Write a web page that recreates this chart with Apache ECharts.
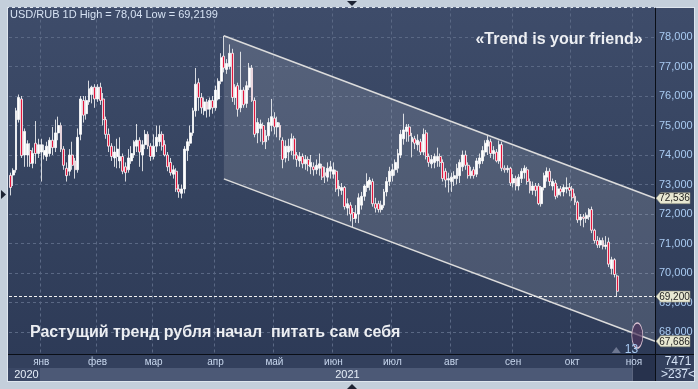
<!DOCTYPE html>
<html>
<head>
<meta charset="utf-8">
<script src="https://cdn.jsdelivr.net/npm/echarts@6/dist/echarts.min.js"></script>
<style>
  html, body { margin: 0; padding: 0; background: #c4cfdb; }
  #wrap { position: relative; width: 698px; height: 389px; overflow: hidden; }
  #panel { position: absolute; left: 8px; top: 8px; width: 686px; height: 373px;
           background: linear-gradient(to bottom, #3e4c6a 0%, #35435f 50%, #2c3956 100%);
           box-shadow: 0 0 0 1px #dfe6ee; }
  #chart { position: absolute; left: 0; top: 0; width: 698px; height: 389px; }
</style>
</head>
<body>
<div id="wrap"><div id="panel"></div><div id="chart"></div></div>
<script>
// ---------------- DATA (daily candles: [open, close, low, high]) ----------------
const dec = [
  [73.31,72.90,72.63,73.40],[73.32,73.48,72.95,73.55],[73.50,75.50,73.40,75.60],[75.20,75.95,75.10,76.05],
  [75.90,73.98,73.90,76.00],[74.00,74.80,73.60,74.90],[74.00,74.38,73.60,74.50],[74.15,73.72,73.60,74.40],
  [73.72,74.05,73.55,74.25],[74.40,74.05,73.70,75.15],[74.05,74.35,73.90,74.55]
];
const jan = [
  [74.10,74.35,73.10,74.55],[74.00,74.15,73.85,74.35],[73.95,74.30,73.80,74.45],[74.05,74.50,73.95,74.60],
  [74.50,74.25,74.00,74.95],[74.25,74.75,74.10,75.20],[74.75,75.00,74.50,75.30],[75.00,74.20,74.10,75.10],
  [74.20,73.65,73.50,74.30],[73.55,73.30,73.10,73.75],[73.45,74.00,73.30,74.20],[74.00,73.65,73.50,74.45],
  [73.80,73.50,73.20,73.90],[73.50,74.60,73.40,74.90],[74.70,75.90,74.50,76.00],[75.85,75.35,75.10,76.00],
  [75.40,75.85,75.20,76.00],[75.80,76.25,75.70,76.52],[76.05,76.30,75.75,76.35],[76.30,75.90,75.60,76.40]
];
const feb = [
  [75.90,76.30,75.80,76.40],[76.30,75.85,75.70,76.45],[75.90,75.20,75.00,76.10],[75.20,74.70,74.55,75.30],
  [74.70,74.30,74.10,74.90],[74.30,73.95,73.80,74.40],[73.90,74.10,73.60,74.30],[73.95,74.20,73.55,74.55],
  [73.80,73.95,73.55,74.60],[73.95,73.45,73.35,74.05],[73.60,73.40,73.10,73.75],[73.50,73.90,73.40,74.20],
  [73.80,74.05,73.70,74.30],[74.00,74.45,73.90,74.50],[74.30,74.50,74.10,75.05],[74.50,74.10,73.60,74.60],
  [74.00,74.35,73.45,74.50],[74.35,74.70,74.20,74.85],[74.70,74.30,74.20,74.80],[74.30,73.95,73.80,74.40]
];
const mar = [
  [73.95,74.30,73.85,74.70],[74.30,74.60,74.10,75.00],[74.45,74.70,74.30,75.00],[74.70,74.30,74.15,74.80],
  [74.35,74.00,73.95,74.50],[74.00,73.60,73.45,74.10],[73.75,73.40,73.30,73.90],[73.35,73.50,73.20,73.65],
  [73.45,72.85,72.75,73.55],[72.85,72.75,72.55,73.00],[72.70,72.85,72.53,73.00],[72.85,74.20,72.70,74.30],
  [74.15,74.45,73.80,74.55],[74.40,74.75,74.30,75.00],[74.75,75.50,74.65,75.60],[75.50,76.40,75.30,76.95],
  [76.45,75.95,75.50,76.60],[75.95,75.60,75.40,76.10],[75.50,75.80,75.35,75.95],[75.80,75.55,75.27,75.90],
  [75.55,75.85,75.30,75.95],[75.85,75.60,75.40,76.00]
];
const apr = [
  [75.60,76.20,75.50,76.35],[75.90,76.50,75.85,76.60],[76.50,77.30,76.40,77.45],[77.35,76.95,76.80,78.04],
  [76.90,77.10,76.75,77.25],[77.00,77.45,76.90,77.75],[77.45,75.95,75.80,77.60],[75.95,76.30,75.70,76.40],
  [76.35,75.55,75.30,76.45],[75.60,76.20,75.45,77.50],[76.20,75.70,75.60,76.30],[75.75,76.35,75.60,76.50],
  [76.30,76.95,76.20,77.12],[76.95,75.85,75.80,77.05],[75.85,74.70,74.60,75.95],[74.75,75.10,74.40,75.25],
  [74.90,75.05,74.45,75.20],[75.00,74.45,74.35,75.10],[74.45,74.65,74.20,74.85],[74.65,75.10,74.50,75.25],
  [75.00,75.30,74.80,75.90]
];
const may = [
  [75.25,74.95,74.70,75.45],[74.95,75.10,74.60,75.30],[75.00,74.60,74.50,75.10],[74.50,73.85,73.55,74.60],
  [73.90,74.30,73.75,74.50],[74.10,74.30,73.80,74.55],[74.15,74.55,74.00,74.73],[74.55,74.00,73.85,74.65],
  [74.00,73.85,73.60,74.10],[73.80,73.95,73.60,74.10],[73.95,73.70,73.55,74.05],[73.70,73.85,73.50,74.00],
  [73.85,73.65,73.45,73.95],[73.60,73.75,73.35,74.00],[73.60,73.50,73.30,73.75],[73.50,73.65,73.35,73.85],
  [73.55,73.70,73.30,74.05],[73.60,73.25,73.15,73.70],[73.40,73.30,73.05,73.60],[73.25,73.55,73.10,73.75],
  [73.45,73.60,73.20,73.80]
];
const jun = [
  [73.35,73.50,73.20,73.75],[73.45,72.85,72.75,73.50],[72.85,72.95,72.60,73.15],[72.80,72.90,72.65,73.05],
  [72.90,72.25,72.15,72.95],[72.20,72.35,71.95,72.53],[72.30,72.00,71.75,72.40],[72.05,71.85,71.55,72.20],
  [71.85,72.00,71.70,72.30],[72.00,72.55,71.69,72.70],[72.30,72.60,72.15,72.75],[72.60,72.95,72.45,73.00],
  [72.90,73.10,72.75,73.38],[73.00,73.15,72.80,73.25],[73.10,72.35,72.25,73.20],[72.35,72.20,72.05,72.55],
  [72.35,72.15,72.05,72.45],[72.15,72.30,72.05,72.45],[72.30,72.75,72.20,72.85],[72.75,73.10,72.60,73.25],
  [73.10,73.45,72.95,73.60]
];
const jul = [
  [73.30,73.50,73.10,73.70],[73.50,73.75,73.30,73.85],[73.55,74.05,73.40,74.20],[74.00,74.70,73.90,74.85],
  [74.55,74.85,74.35,75.40],[74.80,74.95,74.45,75.05],[74.95,74.65,74.45,75.05],[74.45,74.60,73.92,74.75],
  [74.55,74.40,74.20,74.65],[74.35,74.50,74.15,74.70],[74.45,74.10,74.00,74.55],[74.10,74.70,74.00,74.90],
  [74.75,73.95,73.85,74.85],[73.95,73.75,73.60,74.05],[73.70,73.85,73.55,74.00],[73.75,73.95,73.55,74.05],
  [73.80,73.95,73.60,74.25],[73.95,73.75,73.60,74.05],[73.75,73.20,73.10,73.85],[73.45,73.15,72.90,73.55],
  [73.15,73.20,72.73,73.40]
];
const aug = [
  [73.10,73.25,72.75,73.40],[73.20,73.30,72.95,73.45],[73.20,73.55,73.00,73.70],[73.30,73.75,73.05,73.85],
  [73.60,74.00,73.45,74.15],[74.00,73.65,73.50,74.15],[73.65,73.30,73.20,73.75],[73.30,73.45,73.20,73.60],
  [73.50,73.30,73.20,73.60],[73.35,73.80,73.25,73.90],[73.70,73.90,73.55,74.05],[73.80,74.15,73.70,74.30],
  [74.10,74.40,73.95,74.50],[74.30,74.50,74.00,74.66],[74.45,74.05,73.90,74.55],[74.05,74.15,73.85,74.30],
  [74.10,73.80,73.75,74.20],[73.80,74.35,73.70,74.49],[74.35,73.55,73.45,74.45],[73.55,73.50,73.40,73.65],
  [73.50,73.55,73.40,73.65],[73.55,73.05,72.95,73.60]
];
const sep = [
  [73.05,73.20,72.90,73.35],[73.20,72.95,72.80,73.30],[72.95,73.25,72.80,73.35],[73.20,73.45,73.05,73.55],
  [73.40,73.55,73.20,73.65],[73.50,73.10,73.00,73.60],[73.10,72.80,72.70,73.20],[72.80,72.95,72.65,73.10],
  [72.95,72.80,72.60,73.05],[72.95,72.35,72.30,73.05],[72.35,72.90,72.25,72.95],[72.90,73.30,72.80,73.40],
  [73.25,73.45,73.10,73.58],[73.45,73.10,72.95,73.55],[72.95,73.10,72.80,73.20],[73.05,72.60,72.50,73.15],
  [72.65,72.85,72.55,72.95],[72.85,72.75,72.60,72.95],[72.75,72.90,72.60,73.00],[72.85,72.90,72.70,73.24],
  [72.90,72.80,72.60,73.05]
];
const oct = [
  [72.85,72.55,72.45,72.95],[72.60,72.40,72.30,72.70],[72.40,71.80,71.70,72.45],[71.80,71.90,71.60,72.00],
  [71.90,71.85,71.55,72.00],[71.85,71.95,71.70,72.05],[71.90,72.15,71.80,72.20],[72.15,71.45,71.35,72.25],
  [71.45,71.10,71.00,71.50],[71.10,70.95,70.85,71.25],[70.95,71.10,70.85,71.20],[71.10,70.90,70.80,71.20],
  [70.90,70.95,70.80,71.25],[71.05,70.30,70.20,71.20],[70.15,70.45,69.95,70.55],[70.45,69.95,69.85,70.50],
  [69.90,69.38,69.2199,69.95]
];

// Axis categories: trading-day slots per month (last ones are empty future slots)
const monthNames = ['', 'янв', 'фев', 'мар', 'апр', 'май', 'июн', 'июл', 'авг', 'сен', 'окт', 'ноя'];
const monthDays  = [11, 20, 20, 22, 21, 21, 21, 21, 22, 21, 22, 8];
const yearLabels = ['2020', '2021'];
const yTicks = { min: 67, max: 79, step: 1 };

// Trend channel (x in trading-day slots, y in RUB)
const channelX   = [76.5, 230];
const upperLine  = [78.04, 72.536];
const lowerLine  = [73.19, 67.686];
const lastPrice  = 69.2;
const ellipseAt  = [223.7, 67.88];
const barsAhead  = 13;
const barsMarkAt = [216.2, 67.39];

const titleText  = '«Trend is your friend»';
const noteText   = 'Растущий тренд рубля начал  питать сам себя';
const volumeText = ['7471', '>237<'];

// ---------------- BUILD ----------------
const candles = [].concat(dec, jan, feb, mar, apr, may, jun, jul, aug, sep, oct);
const categories = [];
const monthLabelAt = [];
const monthStartIdx = [];
monthDays.forEach((n, m) => {
  monthStartIdx.push(categories.length);
  for (let k = 0; k < n; k++) {
    categories.push('m' + m + 'd' + (k + 1));
    monthLabelAt.push(k === 0 ? monthNames[m] : '');
  }
});
const isMonthStart = i => monthLabelAt[i] !== '';
const fmt3 = v => v.toFixed(3).replace('.', ',');
const hi = Math.max.apply(null, candles.map(c => c[3]));
const lo = Math.min.apply(null, candles.map(c => c[2]));
const headerText = 'USD/RUB 1D High = ' + String(hi).replace('.', ',') + ' Low = ' + String(lo).replace('.', ',');

const FONT = '"Liberation Sans", Arial, sans-serif';
const chart = echarts.init(document.getElementById('chart'), null, { renderer: 'canvas' });

const tagPath = 'path://M0,5.5L4.5,0L33,0L33,11L4.5,11Z';

const option = {
  backgroundColor: 'transparent',
  animation: false,
  grid: { left: 9, top: 7.5, width: 646, height: 354, containLabel: false },
  xAxis: [
    { type: 'category', data: categories, boundaryGap: true,
      axisLine: { show: false }, axisTick: { show: false }, axisLabel: { show: false },
      splitLine: { show: true, interval: (i) => isMonthStart(i),
                   lineStyle: { color: '#5a6884', width: 1, type: [3, 3] } } },
    { type: 'category', data: categories, boundaryGap: true, position: 'bottom', offset: -6, z: 10,
      axisLine: { show: false }, axisTick: { show: false }, splitLine: { show: false },
      axisLabel: { show: true, interval: (i) => isMonthStart(i), formatter: (v, i) => monthLabelAt[i],
                   color: '#c8d7ee', fontSize: 10, margin: 2, fontFamily: FONT } },
    { type: 'value', min: 0, max: channelX[1], show: false }
  ],
  yAxis: {
    type: 'value', min: yTicks.min, max: yTicks.max, interval: yTicks.step, position: 'right',
    axisLine: { show: false }, axisTick: { show: false },
    axisLabel: { color: '#a9cbf2', fontSize: 11, margin: 4, fontFamily: FONT,
                 showMinLabel: false, showMaxLabel: false, formatter: v => fmt3(v) },
    splitLine: { show: true, lineStyle: { color: '#5a6884', width: 1, type: [3, 3] } }
  },
  series: [
    { type: 'custom', xAxisIndex: 2, yAxisIndex: 0, z: 1, silent: true,
      data: [[channelX[0], upperLine[0]]],
      renderItem: (params, api) => ({
        type: 'polygon',
        shape: { points: [
          api.coord([channelX[0], upperLine[0]]), api.coord([channelX[1], upperLine[1]]),
          api.coord([channelX[1], lowerLine[1]]), api.coord([channelX[0], lowerLine[0]]) ] },
        style: { fill: 'rgba(255,255,255,0.13)' }
      }) },
    { type: 'candlestick', xAxisIndex: 0, yAxisIndex: 0, data: candles, z: 3, barWidth: 2.4,
      itemStyle: { color: '#ffffff', color0: '#e3163d', borderColor: '#ffffff', borderColor0: '#ffffff', borderWidth: 0.8 },
      markLine: { silent: true, symbol: 'none', label: { show: false },
                  lineStyle: { color: '#f2f2f2', type: [3, 2], width: 1 },
                  data: [{ yAxis: lastPrice }] } },
    { type: 'line', xAxisIndex: 2, yAxisIndex: 0, z: 4, silent: true, symbol: 'none',
      data: [[channelX[0], upperLine[0]], [channelX[1], upperLine[1]]],
      lineStyle: { color: '#dcdcdc', width: 1.5 },
      markPoint: {
        symbol: tagPath, symbolSize: [34, 11], symbolKeepAspect: false, symbolOffset: [18, 0],
        itemStyle: { color: '#e8e8d2', borderColor: '#8f907f', borderWidth: 0.5 },
        label: { show: true, color: '#1e1e1e', fontSize: 10, fontFamily: FONT, offset: [1.5, 0.5],
                 formatter: p => fmt3(p.value) },
        data: [
          { coord: [channelX[1], upperLine[1]], value: upperLine[1] },
          { coord: [channelX[1], lastPrice], value: lastPrice },
          { coord: [channelX[1], lowerLine[1]], value: lowerLine[1] }
        ]
      } },
    { type: 'line', xAxisIndex: 2, yAxisIndex: 0, z: 4, silent: true, symbol: 'none',
      data: [[channelX[0], lowerLine[0]], [channelX[1], lowerLine[1]]],
      lineStyle: { color: '#dcdcdc', width: 1.5 },
      markPoint: {
        data: [
          { coord: ellipseAt, symbol: 'circle', symbolSize: [11, 25],
            itemStyle: { color: 'rgba(78,52,92,0.7)', borderColor: '#dcc4d4', borderWidth: 1 },
            label: { show: false } },
          { coord: barsMarkAt, symbol: 'triangle', symbolSize: [9, 6], value: barsAhead,
            itemStyle: { color: '#6d7791' },
            label: { show: true, position: 'right', distance: 4, formatter: String(barsAhead),
                     color: '#a9cbf2', fontSize: 12, fontFamily: FONT } }
        ]
      } }
  ]
};
chart.setOption(option);

// ---------- frame, axis band and texts (positions from the chart's own scales) ----------
const px = v => chart.convertToPixel({ xAxisIndex: 2 }, v);
const leftX = px(0), janX = px(monthStartIdx[1]), novX = px(monthStartIdx[11]), rightX = px(channelX[1]);
const bandTop = 354.5, bandMid = 368, bandBot = 381;
function txt(text, x, y, font, fill, align) {
  return { type: 'text', z: 20, silent: true,
           style: { text: text, x: x, y: y, font: font, fill: fill,
                    align: align, textAlign: align, verticalAlign: 'middle', textVerticalAlign: 'middle' } };
}
chart.setOption({
  graphic: [
    { type: 'rect', z: 5, silent: true, shape: { x: 8, y: bandTop, width: rightX - 8, height: bandMid - bandTop }, style: { fill: '#33405d' } },
    { type: 'rect', z: 5, silent: true, shape: { x: 8, y: bandMid, width: rightX - 8, height: bandBot - bandMid }, style: { fill: '#4c5976' } },
    { type: 'rect', z: 5, silent: true, shape: { x: 8, y: bandMid, width: janX - 8, height: bandBot - bandMid }, style: { fill: '#3a4765' } },
    { type: 'rect', z: 6, silent: true, shape: { x: novX, y: bandTop, width: rightX - novX, height: bandBot - bandTop }, style: { fill: '#27324d' } },
    { type: 'line', z: 6, silent: true, shape: { x1: novX, y1: bandTop, x2: novX, y2: bandBot }, style: { stroke: '#5c6680', lineWidth: 1 } },
    { type: 'rect', z: 5, silent: true, shape: { x: rightX, y: bandTop, width: 694 - rightX, height: bandBot - bandTop }, style: { fill: '#33405d' } },
    { type: 'line', z: 7, silent: true, shape: { x1: 8, y1: bandTop, x2: 694, y2: bandTop }, style: { stroke: '#0a0e16', lineWidth: 1 } },
    { type: 'line', z: 7, silent: true, shape: { x1: rightX + 0.5, y1: 8, x2: rightX + 0.5, y2: bandBot }, style: { stroke: '#0a0e16', lineWidth: 1 } },
    { type: 'line', z: 7, silent: true, shape: { x1: 665, y1: 368.5, x2: 690, y2: 368.5 }, style: { stroke: '#8e9ab0', lineWidth: 1 } },
    txt(volumeText[0], 678, 361.5, '12px ' + FONT, '#d5e2f5', 'center'),
    txt(volumeText[1], 678, 375, '12px ' + FONT, '#d5e2f5', 'center'),
    txt(yearLabels[0], (leftX + janX) / 2 + 2, 374.5, '11px ' + FONT, '#e6eef8', 'center'),
    txt(yearLabels[1], (janX + rightX) / 2, 374.5, '11px ' + FONT, '#e6eef8', 'center'),
    txt(headerText, 10, 15, '11px ' + FONT, '#d6e2f3', 'left'),
    txt(titleText, 559, 40, 'bold 16px ' + FONT, '#eceef2', 'center'),
    txt(noteText, 30, 333, 'bold 16px ' + FONT, '#eceef2', 'left'),
    { type: 'polygon', z: 20, silent: true, shape: { points: [[347, 1], [357, 1], [352, 6]] }, style: { fill: '#1c2333' } },
    { type: 'polygon', z: 20, silent: true, shape: { points: [[347, 389], [357, 389], [352, 384]] }, style: { fill: '#1c2333' } },
    { type: 'polygon', z: 20, silent: true, shape: { points: [[1, 190], [1, 199], [6, 194.5]] }, style: { fill: '#1c2333' } }
  ]
});
</script>
</body>
</html>
